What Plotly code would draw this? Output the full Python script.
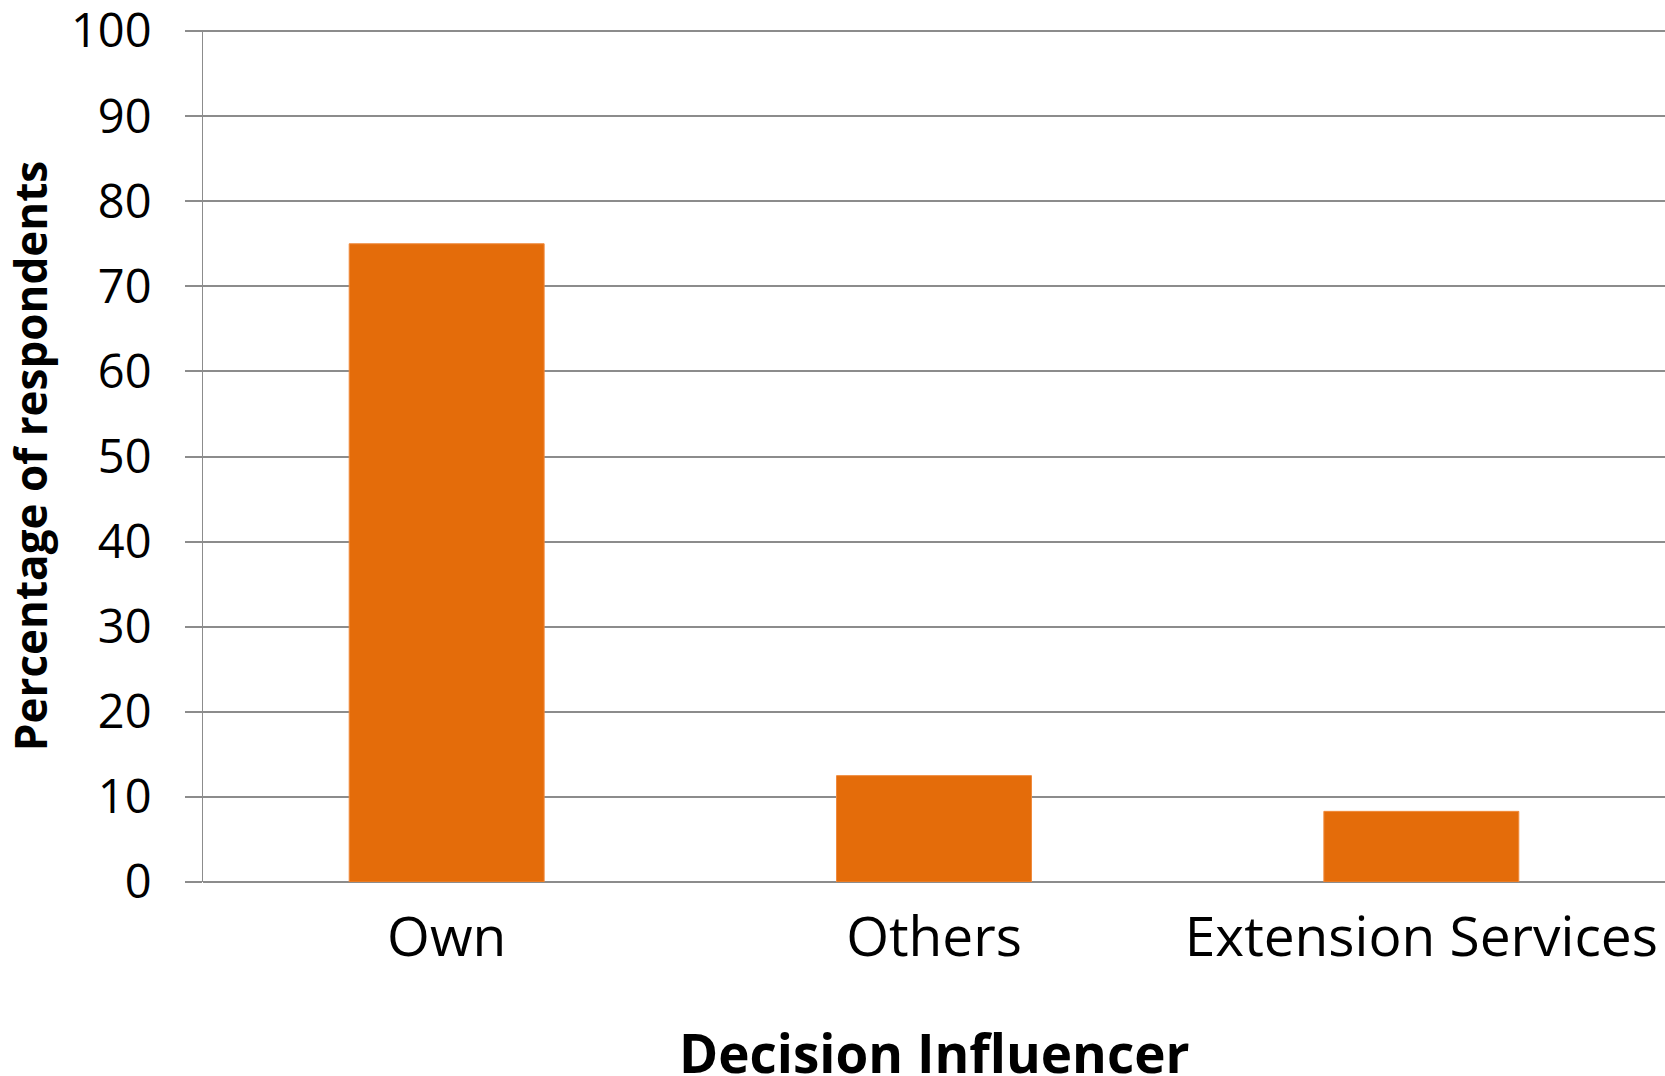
import plotly.graph_objects as go

# Survey results: who influences the decision
categories = ["Own", "Others", "Extension Services"]
percentages = [75.0, 12.5, 8.3]
y_ticks = [0, 10, 20, 30, 40, 50, 60, 70, 80, 90, 100]

BAR_COLOR = "#E46C0A"
GRID_COLOR = "#8C8C8C"
FONT = "Open Sans"

fig = go.Figure(
    go.Bar(
        x=categories,
        y=percentages,
        width=0.4,
        marker=dict(color=BAR_COLOR, line=dict(color="#F08A3C", width=1)),
        hoverinfo="x+y",
    )
)

fig.update_layout(
    width=1665,
    height=1076,
    margin=dict(l=203, r=0, t=30, b=194),
    paper_bgcolor="white",
    plot_bgcolor="white",
    showlegend=False,
    font=dict(family=FONT, color="black"),
    bargap=0.6,
)

fig.update_xaxes(
    type="category",
    automargin=False,
    showgrid=False,
    showline=False,
    ticks="",
    tickfont=dict(family=FONT, size=55, color="black"),
    ticklabelstandoff=18,
    range=[-0.5, 2.5],
)

# x-axis title placed below the category labels
fig.add_annotation(
    text="<b>Decision Influencer</b>",
    xref="paper", yref="paper",
    x=0.5, y=0,
    xanchor="center", yanchor="middle",
    yshift=-170,
    showarrow=False,
    font=dict(family=FONT, size=53, color="black"),
)

fig.update_yaxes(
    automargin=False,
    range=[0, 100.12],
    tickvals=y_ticks,
    ticktext=[str(v) for v in y_ticks],
    showgrid=True,
    gridcolor=GRID_COLOR,
    gridwidth=2,
    zeroline=True,
    zerolinecolor=GRID_COLOR,
    zerolinewidth=2,
    showline=True,
    linecolor=GRID_COLOR,
    linewidth=1,
    ticks="outside",
    ticklen=17,
    tickwidth=2,
    tickcolor=GRID_COLOR,
    tickfont=dict(family=FONT, size=47, color="black"),
    ticklabelstandoff=24,
    ticklabeloverflow="allow",
    title=dict(
        text="<b>Percentage of respondents</b>",
        font=dict(family=FONT, size=44, color="black"),
        standoff=30,
    ),
)

fig.write_html("out.html")
